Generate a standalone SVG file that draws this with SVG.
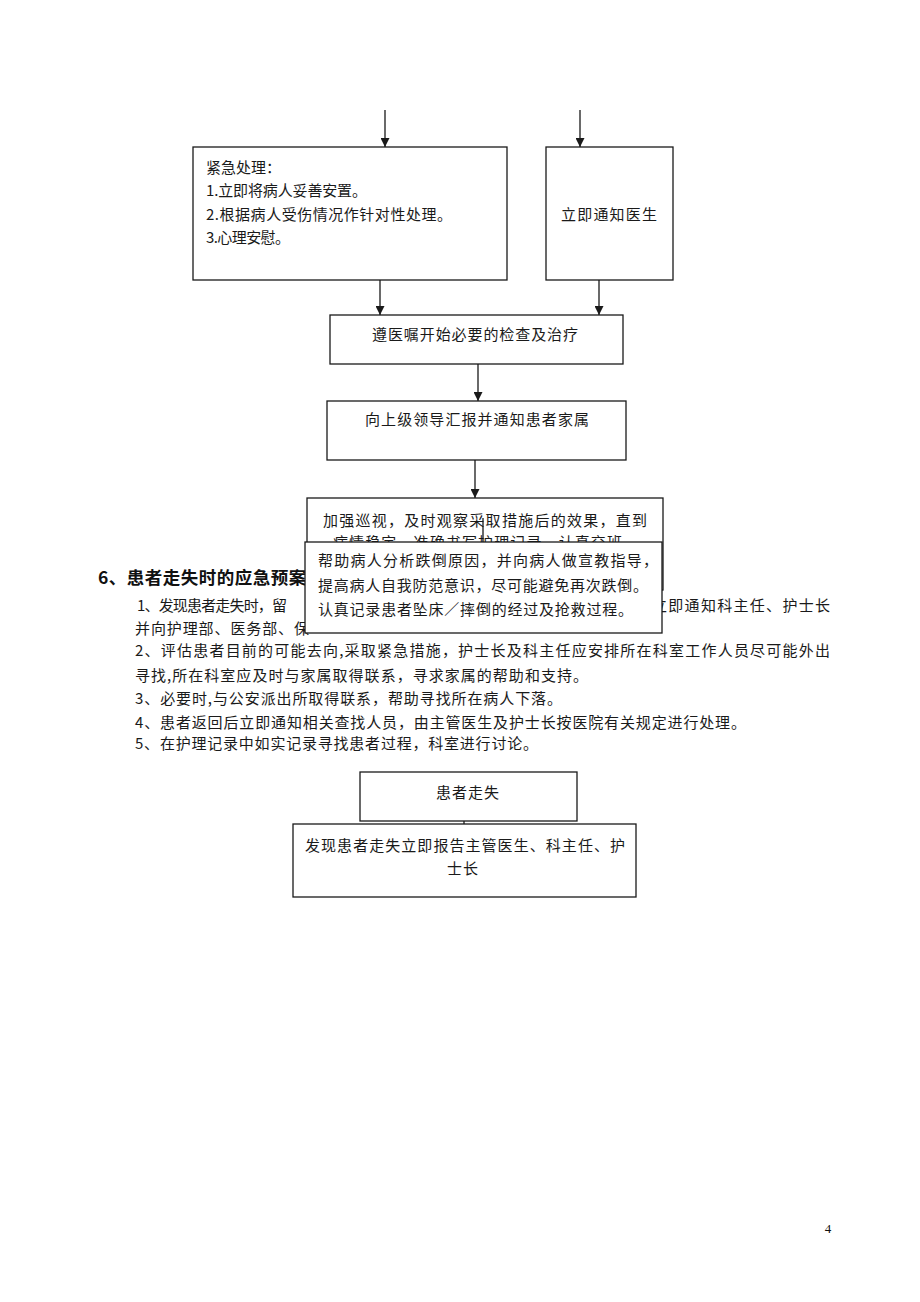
<svg xmlns="http://www.w3.org/2000/svg" width="920" height="1302" viewBox="0 0 920 1302">
<defs>
<style>
.box{fill:#fff;stroke:#1a1a1a;stroke-width:1.3}
.ln{stroke:#1a1a1a;stroke-width:1.3;fill:none}
.t{font-family:"Noto Sans CJK SC","Noto Sans",sans-serif;font-size:15px;fill:#1a1a1a}
.h{font-family:"Noto Sans CJK SC","Noto Sans",sans-serif;font-size:17.5px;font-weight:bold;fill:#111}
.pn{font-family:"Liberation Serif",serif;font-size:13px;fill:#111}
</style>
<marker id="ah" viewBox="0 0 10 10" refX="10" refY="5" markerWidth="9" markerHeight="9" markerUnits="userSpaceOnUse" orient="auto">
<path d="M0,0 L10,5 L0,10 z" fill="#1a1a1a"/>
</marker>
</defs>
<rect width="920" height="1302" fill="#fff"/>

<g id="connectors">
<line class="ln" x1="385" y1="110" x2="385" y2="147" marker-end="url(#ah)"/>
<line class="ln" x1="580" y1="110" x2="580" y2="147" marker-end="url(#ah)"/>
<line class="ln" x1="380" y1="280" x2="380" y2="315" marker-end="url(#ah)"/>
<line class="ln" x1="599" y1="280" x2="599" y2="315" marker-end="url(#ah)"/>
<line class="ln" x1="478" y1="364" x2="478" y2="401" marker-end="url(#ah)"/>
<line class="ln" x1="475" y1="460" x2="475" y2="498" marker-end="url(#ah)"/>
<line class="ln" x1="464" y1="821" x2="464" y2="824"/>
</g>

<g id="emergency">
<rect class="box" x="193" y="147" width="314" height="133"/>
<text class="t" x="206" y="173">紧急处理：</text>
<text class="t" x="206" y="196" textLength="161" lengthAdjust="spacing">1.立即将病人妥善安置。</text>
<text class="t" x="206" y="220" textLength="246" lengthAdjust="spacing">2.根据病人受伤情况作针对性处理。</text>
<text class="t" x="206" y="243" textLength="84" lengthAdjust="spacing">3.心理安慰。</text>
</g>

<g id="notify-doctor">
<rect class="box" x="546" y="147" width="127" height="133"/>
<text class="t" x="561" y="220" textLength="96" lengthAdjust="spacing">立即通知医生</text>
</g>

<g id="treatment">
<rect class="box" x="330" y="315" width="293" height="49"/>
<text class="t" x="372" y="340" textLength="206" lengthAdjust="spacing">遵医嘱开始必要的检查及治疗</text>
</g>

<g id="report">
<rect class="box" x="327" y="401" width="299" height="59"/>
<text class="t" x="365" y="425" textLength="224" lengthAdjust="spacing">向上级领导汇报并通知患者家属</text>
</g>

<g id="observe">
<rect class="box" x="307" y="498" width="356" height="92"/>
<text class="t" x="323" y="525.5" textLength="324" lengthAdjust="spacing">加强巡视，及时观察采取措施后的效果，直到</text>
<text class="t" x="333" y="548" textLength="289" lengthAdjust="spacing">病情稳定，准确书写护理记录，认真交班</text>
<line class="ln" x1="483" y1="518" x2="483" y2="542"/>
</g>

<g id="section6">
<text class="h" x="98" y="584" letter-spacing="0.5">6、患者走失时的应急预案</text>
<text class="t" x="137" y="610.5" textLength="150" lengthAdjust="spacing">1、发现患者走失时，留</text>
<text class="t" x="652" y="610.5" textLength="178" lengthAdjust="spacing">立即通知科主任、护士长</text>
<text class="t" x="135" y="633.5" textLength="174" lengthAdjust="spacing">并向护理部、医务部、保</text>
<text class="t" x="135" y="655.5" textLength="695" lengthAdjust="spacing">2、评估患者目前的可能去向,采取紧急措施，护士长及科主任应安排所在科室工作人员尽可能外出</text>
<text class="t" x="135" y="680.5" textLength="453" lengthAdjust="spacing">寻找,所在科室应及时与家属取得联系，寻求家属的帮助和支持。</text>
<text class="t" x="135" y="703.5" textLength="427" lengthAdjust="spacing">3、必要时,与公安派出所取得联系，帮助寻找所在病人下落。</text>
<text class="t" x="135" y="727.5" textLength="611" lengthAdjust="spacing">4、患者返回后立即通知相关查找人员，由主管医生及护士长按医院有关规定进行处理。</text>
<text class="t" x="135" y="748.5" textLength="403" lengthAdjust="spacing">5、在护理记录中如实记录寻找患者过程，科室进行讨论。</text>
</g>

<g id="analyse">
<rect class="box" x="305" y="542" width="357" height="91"/>
<text class="t" x="318" y="565.5" textLength="340" lengthAdjust="spacing">帮助病人分析跌倒原因，并向病人做宣教指导，</text>
<text class="t" x="318" y="590.5" textLength="330" lengthAdjust="spacing">提高病人自我防范意识，尽可能避免再次跌倒。</text>
<text class="t" x="318" y="614.5" textLength="315" lengthAdjust="spacing">认真记录患者坠床／摔倒的经过及抢救过程。</text>
</g>

<g id="missing">
<rect class="box" x="360" y="772" width="217" height="49"/>
<text class="t" x="468" y="797.5" text-anchor="middle" letter-spacing="1">患者走失</text>
</g>

<g id="report-missing">
<rect class="box" x="293" y="824" width="343" height="73"/>
<text class="t" x="305" y="850.5" textLength="320" lengthAdjust="spacing">发现患者走失立即报告主管医生、科主任、护</text>
<text class="t" x="463" y="873.5" text-anchor="middle" letter-spacing="1">士长</text>
</g>

<text class="pn" x="828" y="1233" text-anchor="middle">4</text>
</svg>
